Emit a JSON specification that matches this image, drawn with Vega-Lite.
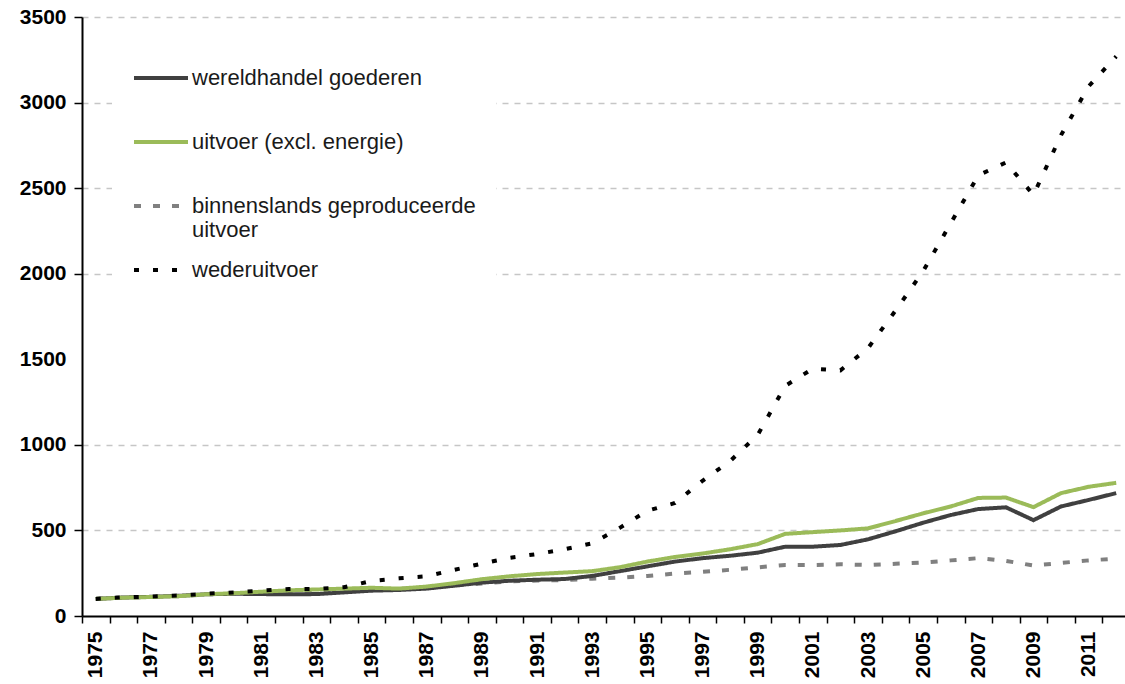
{
  "$schema": "https://vega.github.io/schema/vega-lite/v6.json",
  "width": 1043,
  "height": 599,
  "autosize": {"type": "none"},
  "padding": {"left": 82, "top": 17, "right": 0, "bottom": 68},
  "background": "white",
  "config": {"view": {"stroke": null}, "font": "Liberation Sans"},
  "datasets": {
    "rows": [
      {"jaar": 1975, "w": 100, "u": 100, "b": 100, "r": 100},
      {"jaar": 1976, "w": 108, "u": 107, "b": 107, "r": 109},
      {"jaar": 1977, "w": 112, "u": 111, "b": 111, "r": 113},
      {"jaar": 1978, "w": 118, "u": 116, "b": 116, "r": 120},
      {"jaar": 1979, "w": 127, "u": 127, "b": 126, "r": 130},
      {"jaar": 1980, "w": 130, "u": 133, "b": 131, "r": 138},
      {"jaar": 1981, "w": 128, "u": 142, "b": 134, "r": 148},
      {"jaar": 1982, "w": 127, "u": 150, "b": 136, "r": 158},
      {"jaar": 1983, "w": 128, "u": 155, "b": 140, "r": 158},
      {"jaar": 1984, "w": 138, "u": 160, "b": 150, "r": 168},
      {"jaar": 1985, "w": 148, "u": 165, "b": 156, "r": 205},
      {"jaar": 1986, "w": 152, "u": 160, "b": 158, "r": 220},
      {"jaar": 1987, "w": 160, "u": 172, "b": 166, "r": 232},
      {"jaar": 1988, "w": 177, "u": 192, "b": 178, "r": 270},
      {"jaar": 1989, "w": 195, "u": 215, "b": 190, "r": 306},
      {"jaar": 1990, "w": 206, "u": 232, "b": 203, "r": 340},
      {"jaar": 1991, "w": 212, "u": 245, "b": 207, "r": 362},
      {"jaar": 1992, "w": 216, "u": 254, "b": 210, "r": 390},
      {"jaar": 1993, "w": 234, "u": 262, "b": 218, "r": 425},
      {"jaar": 1994, "w": 262, "u": 285, "b": 224, "r": 515},
      {"jaar": 1995, "w": 290, "u": 318, "b": 234, "r": 615},
      {"jaar": 1996, "w": 318, "u": 345, "b": 248, "r": 660},
      {"jaar": 1997, "w": 338, "u": 365, "b": 258, "r": 790},
      {"jaar": 1998, "w": 352, "u": 390, "b": 270, "r": 905},
      {"jaar": 1999, "w": 370, "u": 420, "b": 284, "r": 1058},
      {"jaar": 2000, "w": 405, "u": 480, "b": 298, "r": 1345},
      {"jaar": 2001, "w": 405, "u": 490, "b": 298, "r": 1445},
      {"jaar": 2002, "w": 415, "u": 500, "b": 302, "r": 1435},
      {"jaar": 2003, "w": 448, "u": 512, "b": 298, "r": 1565},
      {"jaar": 2004, "w": 495, "u": 555, "b": 305, "r": 1785},
      {"jaar": 2005, "w": 545, "u": 600, "b": 312, "r": 2015},
      {"jaar": 2006, "w": 590, "u": 640, "b": 325, "r": 2295},
      {"jaar": 2007, "w": 625, "u": 690, "b": 338, "r": 2575},
      {"jaar": 2008, "w": 635, "u": 692, "b": 322, "r": 2650},
      {"jaar": 2009, "w": 560, "u": 636, "b": 295, "r": 2460},
      {"jaar": 2010, "w": 640, "u": 718, "b": 310, "r": 2810},
      {"jaar": 2011, "w": 678, "u": 755, "b": 325, "r": 3095},
      {"jaar": 2012, "w": 718, "u": 778, "b": 335, "r": 3270}
    ]
  },
  "data": {"name": "rows"},
  "transform": [
    {"fold": ["b", "w", "u", "r"], "as": ["code", "waarde"]},
    {"lookup": "code", "from": {"data": {"values": [
      {"code": "w", "serie": "wereldhandel goederen"},
      {"code": "u", "serie": "uitvoer (excl. energie)"},
      {"code": "b", "serie": "binnenslands geproduceerde uitvoer"},
      {"code": "r", "serie": "wederuitvoer"}
    ]}, "key": "code", "fields": ["serie"]}}
  ],
  "mark": {"type": "line", "strokeWidth": 4},
  "encoding": {
    "x": {
      "field": "jaar",
      "type": "ordinal",
      "bandPosition": 0.5,
      "scale": {"type": "band", "paddingInner": 0, "paddingOuter": 0, "range": [0, 1048]},
      "axis": {
        "title": null,
        "labelAngle": 270,
        "labelExpr": "datum.value % 2 == 1 ? datum.label : ''",
        "labelOverlap": false,
        "tickBand": "extent",
        "domainColor": "black",
        "domainWidth": 2,
        "tickColor": "black",
        "tickWidth": 1.5,
        "tickSize": 7,
        "labelFont": "Liberation Sans",
        "labelFontWeight": "bold",
        "labelFontSize": 21,
        "labelColor": "black",
        "labelPadding": 8,
        "grid": false
      }
    },
    "y": {
      "field": "waarde",
      "type": "quantitative",
      "scale": {"domain": [0, 3500], "nice": false},
      "axis": {
        "title": null,
        "format": "d",
        "values": [0, 500, 1000, 1500, 2000, 2500, 3000, 3500],
        "grid": true,
        "gridDash": [6, 6],
        "gridWidth": 1.5,
        "gridColor": {"condition": {"test": "datum.value == 0 || datum.value == 1500", "value": "transparent"}, "value": "#c6c6c6"},
        "domainColor": "black",
        "domainWidth": 2,
        "tickColor": {"condition": {"test": "datum.value == 1500", "value": "transparent"}, "value": "black"},
        "tickSize": 8,
        "tickWidth": 1.5,
        "labelFont": "Liberation Sans",
        "labelFontWeight": "bold",
        "labelFontSize": 21,
        "labelColor": "black",
        "labelPadding": 8
      }
    },
    "color": {
      "field": "serie",
      "type": "nominal",
      "scale": {
        "domain": ["wereldhandel goederen", "uitvoer (excl. energie)", "binnenslands geproduceerde uitvoer", "wederuitvoer"],
        "range": ["#404040", "#9bbb59", "#808080", "#000000"]
      },
      "legend": {
        "title": null,
        "orient": "none",
        "legendX": 30,
        "legendY": 12,
        "fillColor": "white",
        "padding": 20,
        "gridAlign": "all",
        "symbolType": "stroke",
        "symbolSize": 2916,
        "symbolStrokeWidth": 4,
        "labelFont": "Liberation Sans",
        "labelFontSize": 22,
        "labelColor": "#1a1a1a",
        "labelOffset": 2,
        "labelLimit": 600,
        "rowPadding": -2,
        "labelExpr": "datum.label == 'binnenslands geproduceerde uitvoer' ? ['binnenslands geproduceerde', 'uitvoer'] : datum.label"
      }
    },
    "strokeDash": {
      "field": "serie",
      "type": "nominal",
      "scale": {
        "domain": ["wereldhandel goederen", "uitvoer (excl. energie)", "binnenslands geproduceerde uitvoer", "wederuitvoer"],
        "range": [[1, 0], [1, 0], [7, 12], [5, 14]]
      },
      "legend": {
        "title": null,
        "orient": "none",
        "legendX": 30,
        "legendY": 12,
        "fillColor": "white",
        "padding": 20,
        "gridAlign": "all",
        "symbolType": "stroke",
        "symbolSize": 2916,
        "symbolStrokeWidth": 4,
        "labelFont": "Liberation Sans",
        "labelFontSize": 22,
        "labelColor": "#1a1a1a",
        "labelOffset": 2,
        "labelLimit": 600,
        "rowPadding": -2,
        "labelExpr": "datum.label == 'binnenslands geproduceerde uitvoer' ? ['binnenslands geproduceerde', 'uitvoer'] : datum.label"
      }
    }
  }
}
